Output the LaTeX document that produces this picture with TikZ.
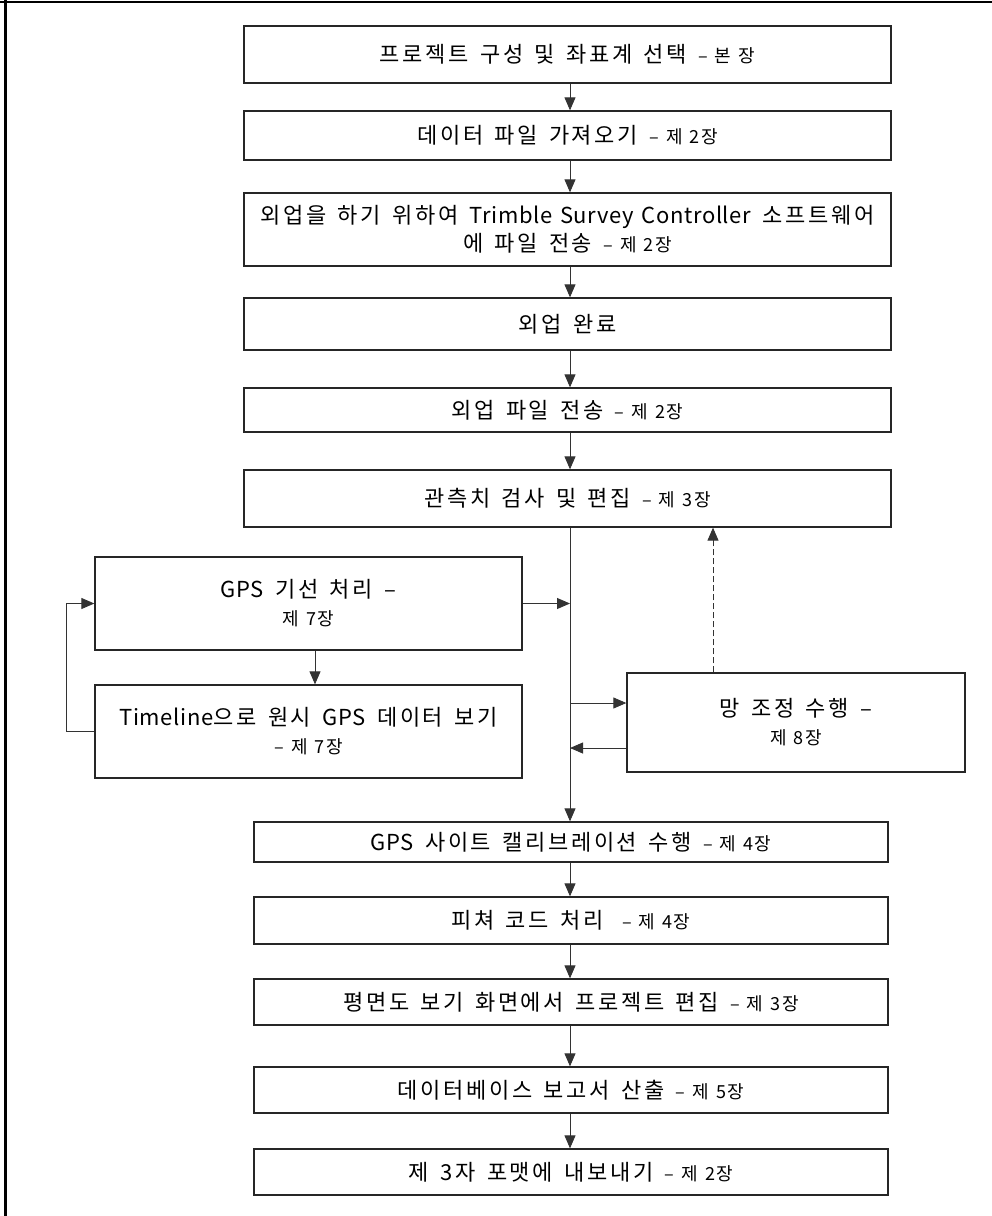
\documentclass[tikz,border=0pt]{standalone}
\usepackage{fontspec}
\setmainfont{Noto Sans CJK KR}[LetterSpace=12,WordSpace=1.5]
\newfontfamily\latinkr{Noto Sans CJK KR}[LetterSpace=3,WordSpace=1.3]
\newfontfamily\smallkr{Noto Sans CJK KR}[LetterSpace=8,WordSpace=1.3]
\usetikzlibrary{arrows.meta}
\newcommand{\chap}[1]{{\smallkr\fontsize{18}{28}\selectfont #1}}
\newcommand{\lat}[1]{{\latinkr #1}}
\begin{document}
\begin{tikzpicture}[x=1pt,y=-1pt,
  box/.style={draw=black!85, line width=1.3pt, inner sep=0pt, align=center,
    font=\fontsize{22}{28}\selectfont},
  arr/.style={draw=black!80, line width=0.9pt, -{Triangle[length=13pt,width=11pt]}},
  frame/.style={line width=2.6pt}]
\useasboundingbox (0,0) rectangle (992,1216);
\coordinate (fl) at (0,2); \coordinate (fr) at (992,2);
\coordinate (ft) at (5.5,0); \coordinate (fb) at (5.5,1216);
\draw[frame] (fl) -- (fr);
\draw[frame] (ft) -- (fb);
\coordinate (sp) at (570,0);

\node[box, minimum width=647pt, minimum height=57pt] (b1) at (567.5,54.5) {프로젝트 구성 및 좌표계 선택 \chap{– 본 장}};
\node[box, minimum width=647pt, minimum height=49pt] (b2) at (567.5,135.5) {데이터 파일 가져오기 \chap{– 제 2장}};
\node[box, minimum width=647pt, minimum height=73pt] (b3) at (567.5,229.5) {외업을 하기 위하여 \lat{Trimble Survey Controller} 소프트웨어\\에 파일 전송 \chap{– 제 2장}};
\node[box, minimum width=647pt, minimum height=52pt] (b4) at (567.5,324) {외업 완료};
\node[box, minimum width=647pt, minimum height=44pt] (b5) at (567.5,410) {외업 파일 전송 \chap{– 제 2장}};
\node[box, minimum width=647pt, minimum height=57pt] (b6) at (567.5,498.5) {관측치 검사 및 편집 \chap{– 제 3장}};

\node[box, minimum width=427pt, minimum height=93pt] (b7) at (308.5,603.5) {\lat{GPS} 기선 처리 –\\\chap{제 7장}};
\node[box, minimum width=427pt, minimum height=93pt] (b8) at (308.5,731.5) {\lat{Timeline}으로 원시 \lat{GPS} 데이터 보기\\\chap{– 제 7장}};
\node[box, minimum width=338pt, minimum height=99pt] (b9) at (796,722.5) {망 조정 수행 –\\\chap{제 8장}};

\node[box, minimum width=634pt, minimum height=40pt] (b10) at (571,842) {\lat{GPS} 사이트 캘리브레이션 수행 \chap{– 제 4장}};
\node[box, minimum width=634pt, minimum height=47pt] (b11) at (571,920.5) {피쳐 코드 처리 \chap{ – 제 4장}};
\node[box, minimum width=634pt, minimum height=46pt] (b12) at (571,1002) {평면도 보기 화면에서 프로젝트 편집 \chap{– 제 3장}};
\node[box, minimum width=634pt, minimum height=46pt] (b13) at (571,1090) {데이터베이스 보고서 산출 \chap{– 제 5장}};
\node[box, minimum width=634pt, minimum height=46pt] (b14) at (571,1172) {제 3자 포맷에 내보내기 \chap{– 제 2장}};

\draw[arr] (b1.south -| sp) -- (b2.north -| sp);
\draw[arr] (b2.south -| sp) -- (b3.north -| sp);
\draw[arr] (b3.south -| sp) -- (b4.north -| sp);
\draw[arr] (b4.south -| sp) -- (b5.north -| sp);
\draw[arr] (b5.south -| sp) -- (b6.north -| sp);
\draw[arr] (b6.south -| sp) -- (b10.north -| sp);
\draw[arr] (b10.south -| sp) -- (b11.north -| sp);
\draw[arr] (b11.south -| sp) -- (b12.north -| sp);
\draw[arr] (b12.south -| sp) -- (b13.north -| sp);
\draw[arr] (b13.south -| sp) -- (b14.north -| sp);

\draw[arr] (b7.east) -- (b7.east -| sp);
\draw[arr] ([xshift=6.5pt]b7.south) -- ([xshift=6.5pt]b8.north);
\draw[arr] (b8.west) -- ++(-28,0) |- (b7.west);
\draw[arr] ([yshift=19.5pt]b9.west -| sp) -- ([yshift=19.5pt]b9.west);
\draw[arr] ([yshift=-25.5pt]b9.west) -- ([yshift=-25.5pt]b9.west -| sp);
\draw[arr, dash pattern=on 6pt off 3pt] ([xshift=-83pt]b9.north) -- ([xshift=-83pt]b9.north |- b6.south);
\end{tikzpicture}
\end{document}
